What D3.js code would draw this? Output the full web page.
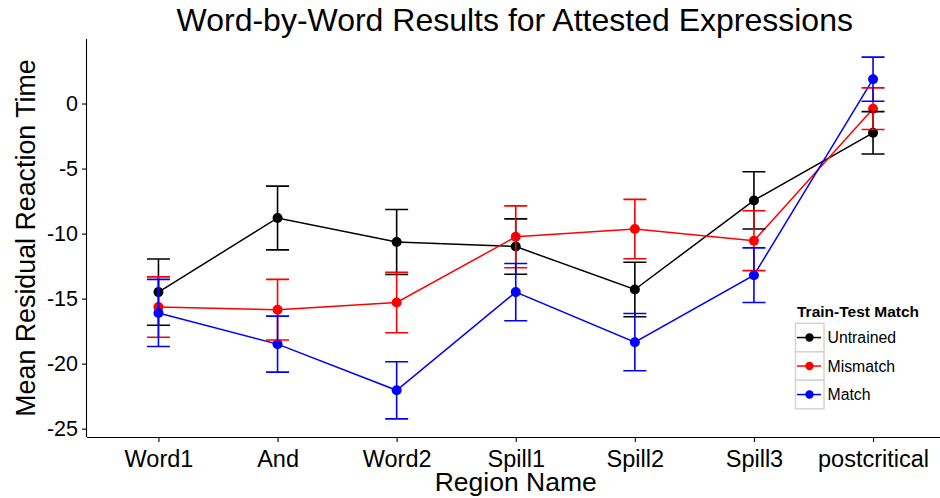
<!DOCTYPE html>
<html>
<head>
<meta charset="utf-8">
<script src="https://cdn.jsdelivr.net/npm/d3@7"></script>
<style>
  html, body { margin: 0; padding: 0; background: #fff; }
  svg { display: block; font-family: "Liberation Sans", Arial, Helvetica, sans-serif; }
</style>
</head>
<body>
<svg id="chart" width="940" height="498"></svg>
<script>
// Regions along the sentence
const regions = ["Word1", "And", "Word2", "Spill1", "Spill2", "Spill3", "postcritical"];

// Condition names (legend order) and colours
const conditions = ["Untrained", "Mismatch", "Match"];
const colors = ["#000000", "#ff0000", "#0000ff"];

// Mean residual reaction time per region
const untrainedMean = [-14.5, -8.8, -10.65, -11.0, -14.3, -7.45, -2.25];
const mismatchMean  = [-15.65, -15.85, -15.3, -10.25, -9.65, -10.55, -0.4];
const matchMean     = [-16.1, -18.5, -22.05, -14.5, -18.35, -13.2, 1.87];

// Standard errors per region
const untrainedSE = [2.55, 2.45, 2.5, 2.13, 2.1, 2.2, 1.63];
const mismatchSE  = [2.32, 2.33, 2.32, 2.38, 2.28, 2.3, 1.6];
const matchSE     = [2.58, 2.15, 2.2, 2.2, 2.2, 2.1, 1.7];

const yTicks = [-25, -20, -15, -10, -5, 0];

const means = [untrainedMean, mismatchMean, matchMean];
const ses = [untrainedSE, mismatchSE, matchSE];

const series = conditions.map((name, i) => ({
  name,
  color: colors[i],
  values: regions.map((r, j) => ({ region: r, mean: means[i][j], se: ses[i][j] }))
}));

const svg = d3.select("#chart");
const panel = { left: 87, right: 944.5, top: 39, bottom: 437 };

// y domain: data range with 5% expansion on each side
const lo = d3.min(series, s => d3.min(s.values, d => d.mean - d.se));
const hi = d3.max(series, s => d3.max(s.values, d => d.mean + d.se));
const pad = (hi - lo) * 0.05;

const x = d3.scalePoint().domain(regions).range([panel.left, panel.right]).padding(0.6);
const y = d3.scaleLinear().domain([lo - pad, hi + pad]).range([panel.bottom, panel.top]);

// Axes
const xAxis = d3.axisBottom(x).tickSize(5).tickSizeOuter(0).tickPadding(3);
const yAxis = d3.axisLeft(y).tickValues(yTicks).tickSize(5).tickSizeOuter(0).tickPadding(4)
  .tickFormat(d => String(d));

const gx = svg.append("g").attr("transform", `translate(0,${panel.bottom})`).call(xAxis);
gx.select(".domain").attr("d", `M${panel.left},0.5H${panel.right}`).attr("stroke", "#000").attr("stroke-width", 1.1);
gx.selectAll(".tick line").attr("stroke", "#000").attr("stroke-width", 1.1);
gx.selectAll(".tick text").attr("font-size", 23.5).attr("fill", "#000")
  .attr("font-family", "Liberation Sans, Arial, sans-serif").attr("dy", "0.95em");

const gy = svg.append("g").attr("transform", `translate(${panel.left},0)`).call(yAxis);
gy.select(".domain").attr("d", `M-0.5,${panel.top}V${panel.bottom}`).attr("stroke", "#000").attr("stroke-width", 1.1);
gy.selectAll(".tick line").attr("stroke", "#000").attr("stroke-width", 1.1);
gy.selectAll(".tick text").attr("font-size", 21.5).attr("fill", "#000")
  .attr("font-family", "Liberation Sans, Arial, sans-serif");

// Lines
const line = d3.line().x(d => x(d.region)).y(d => y(d.mean));
svg.append("g").selectAll("path").data(series).join("path")
  .attr("d", s => line(s.values))
  .attr("fill", "none")
  .attr("stroke", s => s.color)
  .attr("stroke-width", 1.5);

// Points
series.forEach(s => {
  svg.append("g").selectAll("circle").data(s.values).join("circle")
    .attr("cx", d => x(d.region))
    .attr("cy", d => y(d.mean))
    .attr("r", 5)
    .attr("fill", s.color);
});

// Error bars
const capHalf = 11.5;
series.forEach(s => {
  const g = svg.append("g").attr("stroke", s.color).attr("stroke-width", 1.6).attr("fill", "none");
  g.selectAll("path").data(s.values).join("path")
    .attr("d", d => {
      const cx = x(d.region), t = y(d.mean + d.se), b = y(d.mean - d.se);
      return `M${cx - capHalf},${t}H${cx + capHalf}M${cx},${t}V${b}M${cx - capHalf},${b}H${cx + capHalf}`;
    });
});

// Title and axis titles
const cx = (panel.left + panel.right) / 2;
svg.append("text").attr("x", cx - 1).attr("y", 31).attr("text-anchor", "middle")
  .attr("font-size", 32).attr("fill", "#000")
  .text("Word-by-Word Results for Attested Expressions");
svg.append("text").attr("x", cx).attr("y", 491).attr("text-anchor", "middle")
  .attr("font-size", 26.5).attr("fill", "#000").text("Region Name");
svg.append("text")
  .attr("transform", `translate(35,${(panel.top + panel.bottom) / 2}) rotate(-90)`)
  .attr("text-anchor", "middle").attr("font-size", 26.8).attr("fill", "#000")
  .text("Mean Residual Reaction Time");

// Legend
const lg = svg.append("g").attr("transform", "translate(795,0)");
lg.append("text").attr("x", 2).attr("y", 317).attr("font-size", 15.5).attr("font-weight", "bold")
  .attr("fill", "#000").text("Train-Test Match");
const keyH = 28.5, keyTop = 323.3;
series.forEach((s, i) => {
  const ky = keyTop + i * keyH;
  lg.append("rect").attr("x", 0.5).attr("y", ky).attr("width", keyH).attr("height", keyH)
    .attr("fill", "#fff").attr("stroke", "#d4d4d4").attr("stroke-width", 1.5);
  lg.append("line").attr("x1", 2).attr("x2", 26).attr("y1", ky + keyH / 2).attr("y2", ky + keyH / 2)
    .attr("stroke", s.color).attr("stroke-width", 1.5);
  lg.append("circle").attr("cx", 14.5).attr("cy", ky + keyH / 2).attr("r", 4.2).attr("fill", s.color);
  lg.append("text").attr("x", 32.5).attr("y", ky + keyH / 2).attr("dy", "0.36em")
    .attr("font-size", 15.8).attr("fill", "#000").text(s.name);
});
</script>
</body>
</html>
